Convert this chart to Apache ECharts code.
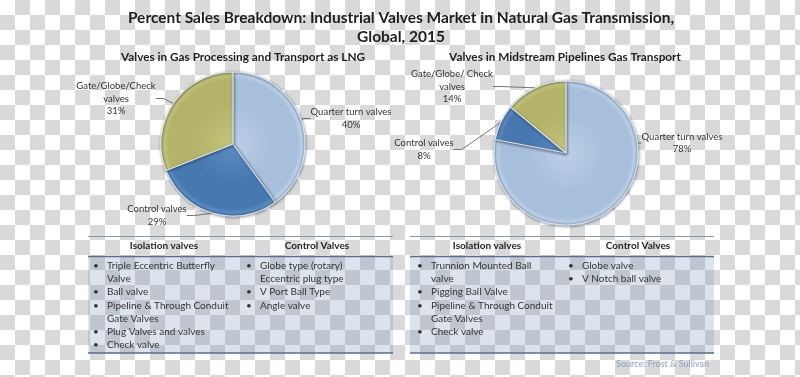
<!DOCTYPE html>
<html>
<head>
<meta charset="utf-8">
<script src="https://cdn.jsdelivr.net/npm/echarts@6/dist/echarts.min.js"></script>
<style>
html,body{margin:0;padding:0;width:800px;height:377px;overflow:hidden;
background-color:#fff;
background-image:conic-gradient(#d9d9d9 0deg 90deg,#ffffff 90deg 180deg,#d9d9d9 180deg 270deg,#ffffff 270deg 360deg);
background-size:30px 30px;background-position:0 0;}
#chart{width:800px;height:377px;}
</style>
</head>
<body>
<div id="chart"></div>
<script>
// ---- data ----
const titleLines = ['Percent Sales Breakdown: Industrial Valves Market in Natural Gas Transmission,', 'Global, 2015'];
const pie1Title = 'Valves in Gas Processing and Transport as LNG';
const pie2Title = 'Valves in Midstream Pipelines Gas Transport';
const pie1Names = ['Quarter turn valves', 'Control valves', 'Gate/Globe/Check\nvalves'];
const pie1Values = [40, 29, 31];
const pie2Names = ['Quarter turn valves', 'Control valves', 'Gate/Globe/ Check\nvalves'];
const pie2Values = [78, 8, 14];
const tableHeaders = ['Isolation valves', 'Control Valves'];
const t1Isolation = ['Triple Eccentric Butterfly\nValve', 'Ball valve', 'Pipeline & Through Conduit\nGate Valves', 'Plug Valves and valves', 'Check valve'];
const t1Control = ['Globe type (rotary)\nEccentric plug type', 'V Port Ball Type', 'Angle valve'];
const t2Isolation = ['Trunnion Mounted Ball\nvalve', 'Pigging Ball Valve', 'Pipeline & Through Conduit\nGate Valves', 'Check valve'];
const t2Control = ['Globe valve', 'V Notch ball valve'];
const sourceText = 'Source: Frost & Sullivan';

// ---- styling / layout ----
const FONT = 'Lato, "Open Sans", sans-serif';
const PIE1 = {cx: 233, cy: 144, r: 72};
const PIE2 = {cx: 566, cy: 153, r: 72};
const baseColors = [
  ['#bcd0e6', '#a7bfdb', '#8ea9c9'],
  ['#5a8cc2', '#4878b0', '#3a6597'],
  ['#c4c47c', '#b3b36a', '#94944f']
];
const labelPos1 = [[351, 118.5], [157, 215.5], [116, 98.5]];
const labelPos2 = [[682, 143], [424, 149.5], [452, 86.5]];

function grad(p, c) {
  return {
    type: 'radial', x: p.cx, y: p.cy, r: p.r, global: true,
    colorStops: [
      {offset: 0, color: c[0]},
      {offset: 0.55, color: c[1]},
      {offset: 0.9, color: c[1]},
      {offset: 0.96, color: c[0]},
      {offset: 1, color: c[2]}
    ]
  };
}

function pieSeries(p, names, values, pos) {
  return {
    type: 'pie',
    center: [p.cx, p.cy],
    radius: p.r,
    startAngle: 90,
    clockwise: true,
    animation: false,
    silent: true,
    data: names.map((n, i) => ({
      name: n, value: values[i],
      itemStyle: {color: grad(p, baseColors[i])}
    })),
    itemStyle: {
      borderColor: 'rgba(235,242,250,0.85)', borderWidth: 1.2,
      shadowBlur: 3, shadowColor: 'rgba(40,50,70,0.55)', shadowOffsetX: 0.5, shadowOffsetY: 0.8
    },
    label: {
      show: true, position: 'outside',
      formatter: prm => prm.name + '\n' + prm.value + '%',
      fontFamily: FONT, fontSize: 9.5, color: '#333', lineHeight: 12.5, align: 'center'
    },
    labelLine: {show: true, length: 8, length2: 8, lineStyle: {color: '#555', width: 0.8}},
    labelLayout: prm => ({x: pos[prm.dataIndex][0], y: pos[prm.dataIndex][1], align: 'center', verticalAlign: 'middle'})
  };
}

function tableGraphics(x0, x1) {
  const els = [];
  const yTop = 236.5, yHead = 256.5, yBot = 353;
  els.push({type: 'rect', shape: {x: x0, y: yHead, width: x1 - x0, height: yBot - yHead}, style: {fill: 'rgba(115,145,180,0.25)'}, silent: true});
  els.push({type: 'line', shape: {x1: x0, y1: yTop, x2: x1, y2: yTop}, style: {stroke: '#8797ae', lineWidth: 1}, silent: true});
  els.push({type: 'line', shape: {x1: x0, y1: yHead, x2: x1, y2: yHead}, style: {stroke: '#5b6d88', lineWidth: 1.5}, silent: true});
  els.push({type: 'line', shape: {x1: x0, y1: yBot, x2: x1, y2: yBot}, style: {stroke: '#5b6d88', lineWidth: 1.5}, silent: true});
  return els;
}

function tableText(headerX, colX, cols) {
  const els = [];
  tableHeaders.forEach((h, i) => {
    els.push({type: 'text', silent: true, style: {text: h, x: headerX[i], y: 246, font: 'bold 10px ' + FONT, fill: '#262626', align: 'center', verticalAlign: 'middle'}});
  });
  const lh = 13.1;
  cols.forEach((items, ci) => {
    let y = 266;
    items.forEach(it => {
      const n = it.split('\n').length;
      els.push({type: 'text', silent: true, style: {text: '•', x: colX[ci], y: y, font: '10px ' + FONT, fill: '#333', align: 'center', verticalAlign: 'middle'}});
      els.push({type: 'text', silent: true, style: {text: it, x: colX[ci] + 11, y: y - lh / 2, font: '10px ' + FONT, fill: '#333', align: 'left', verticalAlign: 'top', lineHeight: lh}});
      y += n * lh;
    });
  });
  return els;
}

const chart = echarts.init(document.getElementById('chart'), null, {renderer: 'canvas'});
const graphics = []
  .concat(tableGraphics(88, 393))
  .concat(tableGraphics(410, 714))
  .concat(tableText([164, 317], [96, 249], [t1Isolation, t1Control]))
  .concat(tableText([487, 638], [420, 571], [t2Isolation, t2Control]))
  .concat([{type: 'text', silent: true, style: {text: sourceText, x: 709, y: 364, font: '9px ' + FONT, fill: '#8aa3c4', align: 'right', verticalAlign: 'middle'}}]);

chart.setOption({
  backgroundColor: 'transparent',
  animation: false,
  title: [
    {text: titleLines.join('\n'), left: 396, top: 3, textAlign: 'center',
     textStyle: {fontFamily: FONT, fontWeight: 'bold', fontSize: 15.5, color: '#1e1e1e', lineHeight: 19}},
    {text: pie1Title, left: 238, top: 46, textAlign: 'center',
     textStyle: {fontFamily: FONT, fontWeight: 'bold', fontSize: 11.8, color: '#1e1e1e'}},
    {text: pie2Title, left: 560, top: 46, textAlign: 'center',
     textStyle: {fontFamily: FONT, fontWeight: 'bold', fontSize: 11.8, color: '#1e1e1e'}}
  ],
  series: [
    pieSeries(PIE1, pie1Names, pie1Values, labelPos1),
    pieSeries(PIE2, pie2Names, pie2Values, labelPos2)
  ],
  graphic: graphics
});
</script>
</body>
</html>
